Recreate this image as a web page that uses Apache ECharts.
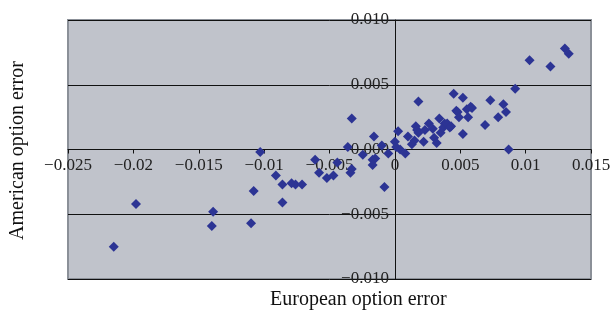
<!DOCTYPE html>
<html>
<head>
<meta charset="utf-8">
<script src="https://cdn.jsdelivr.net/npm/echarts@6/dist/echarts.min.js"></script>
<style>
  html, body { margin: 0; padding: 0; background: #fff; }
  #chart { width: 614px; height: 312px; }
</style>
</head>
<body>
<div id="chart"></div>
<script>
// European option error (x) vs American option error (y)
const errorPairs = [
  [-0.0215, -0.0075], [-0.0198, -0.0042], [-0.0139, -0.0048], [-0.0140, -0.0059],
  [-0.0103, -0.0002], [-0.0108, -0.0032], [-0.0110, -0.0057], [-0.0091, -0.0020],
  [-0.0086, -0.0027], [-0.0086, -0.0041], [-0.0079, -0.0026], [-0.0076, -0.0027],
  [-0.0071, -0.0027], [-0.0061, -0.0008], [-0.0058, -0.0018], [-0.0052, -0.0022],
  [-0.0047, -0.0020], [-0.0044, -0.0010],
  [-0.0036, 0.0002], [-0.0033, 0.0024], [-0.0034, -0.0018], [-0.0033, -0.0015],
  [-0.00245, -0.0004], [-0.0016, 0.0010], [-0.0015, -0.0007], [-0.0017, -0.0008],
  [-0.0017, -0.0012], [-0.0010, 0.0003], [-0.0005, -0.0003], [-0.0008, -0.0029],
  [0.0000, 0.0006], [0.0001, 0.0002], [0.00025, 0.0014], [0.0004, 0.0000],
  [0.0008, -0.0003], [0.0010, 0.0010], [0.0013, 0.0004], [0.0015, 0.0007],
  [0.0016, 0.0018], [0.0017, 0.0015], [0.0018, 0.0037], [0.0018, 0.0013],
  [0.0022, 0.0006], [0.0023, 0.0015], [0.0026, 0.0020], [0.0029, 0.0016],
  [0.0030, 0.0009], [0.0032, 0.0005], [0.0034, 0.0024], [0.0035, 0.0013],
  [0.0037, 0.0017], [0.0038, 0.0020], [0.0040, 0.0020], [0.0042, 0.0017],
  [0.0043, 0.0018], [0.0045, 0.0043], [0.0047, 0.0030], [0.0048, 0.0029],
  [0.0049, 0.0025], [0.0052, 0.0040], [0.0052, 0.0012], [0.0055, 0.0031],
  [0.0056, 0.0025], [0.0058, 0.0033], [0.0059, 0.0032], [0.0069, 0.0019],
  [0.0073, 0.0038], [0.0079, 0.0025], [0.0083, 0.0035], [0.0085, 0.0029],
  [0.0087, 0.0000], [0.0092, 0.0047], [0.0103, 0.0069], [0.0119, 0.0064],
  [0.0130, 0.0078], [0.0133, 0.0074]
];

const xRange = [-0.025, 0.015];
const yRange = [-0.010, 0.010];
const xTitle = "European option error";
const yTitle = "American option error";

const font = "'Liberation Serif', 'DejaVu Serif', serif";

// plot box
const W = 614, H = 312;
const gLeft = 68, gRight = 23, gTop = 20, gBottom = 33;
const plotW = W - gLeft - gRight;
const plotH = H - gTop - gBottom;

// axes cross at zero: shift them inward by the distance from the edge to 0
const xAxisShift = -(0 - yRange[0]) / (yRange[1] - yRange[0]) * plotH;
const yAxisShift = -(0 - xRange[0]) / (xRange[1] - xRange[0]) * plotW;

function fmtX(v) {
  return String(+v.toFixed(3)).replace("-", "\u2212");
}
function fmtY(v) {
  return v.toFixed(3).replace("-", "\u2212");
}

const chart = echarts.init(document.getElementById("chart"));

chart.setOption({
  animation: false,
  grid: {
    left: gLeft, right: gRight, top: gTop, bottom: gBottom,
    show: true,
    backgroundColor: "#c0c3cb",
    borderColor: "#8b9098",
    borderWidth: 2
  },
  xAxis: {
    type: "value",
    min: xRange[0],
    max: xRange[1],
    interval: 0.005,
    position: "bottom",
    offset: xAxisShift,
    splitLine: { show: false },
    axisLine: { onZero: false, lineStyle: { color: "#111", width: 1 } },
    axisTick: { show: true, length: 4, lineStyle: { color: "#111" } },
    axisLabel: {
      margin: 8,
      formatter: fmtX,
      color: "#222",
      fontFamily: font,
      fontSize: 17
    }
  },
  yAxis: {
    type: "value",
    min: yRange[0],
    max: yRange[1],
    interval: 0.005,
    position: "left",
    offset: yAxisShift,
    axisLine: { onZero: false, lineStyle: { color: "#111", width: 1 } },
    axisTick: { show: true, length: 4, lineStyle: { color: "#111" } },
    splitLine: { show: true, lineStyle: { color: "#111", width: 1 } },
    axisLabel: {
      margin: 6,
      formatter: fmtY,
      color: "#222",
      fontFamily: font,
      fontSize: 17
    }
  },
  graphic: [
    {
      type: "text",
      left: 270, top: 290,
      style: { text: xTitle, font: "20px " + font, fill: "#111" }
    },
    {
      type: "text",
      rotation: Math.PI / 2,
      x: 8, y: 240,
      style: { text: yTitle, font: "20px " + font, fill: "#111" }
    }
  ],
  series: [{
    type: "scatter",
    data: errorPairs,
    symbol: "diamond",
    symbolSize: 10,
    itemStyle: { color: "#2c3494", opacity: 1 }
  }]
});
</script>
</body>
</html>
